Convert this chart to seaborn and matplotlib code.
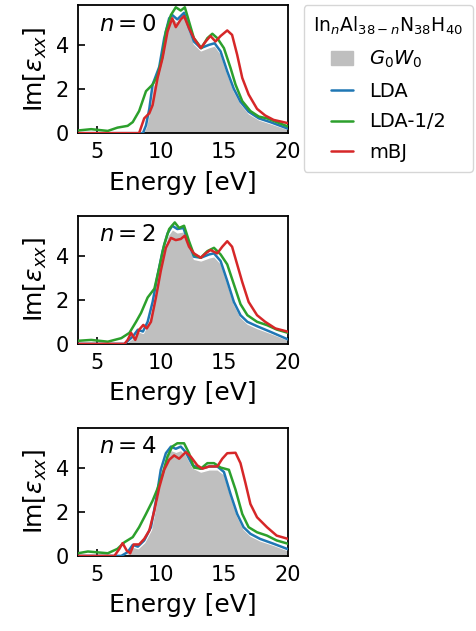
import numpy as np
import pandas as pd
import matplotlib
matplotlib.use("Agg")
import matplotlib.pyplot as plt
import matplotlib.patches as mpatches
from matplotlib.lines import Line2D
import seaborn as sns

# ── Data ────────────────────────────────────────────────────
# n = 0
E0_lda = [3.5, 8.6, 8.84, 9.1, 9.36, 9.88, 10.27, 10.66, 10.9, 11.3, 11.83, 12.22, 12.6, 13.14, 13.8, 14.23, 14.7, 15.22, 15.74, 16.26, 16.9, 17.7, 18.6, 20.0]
I0_lda = [0.0, 0.0, 0.35, 1.1, 2.2, 3.0, 4.3, 5.2, 5.35, 5.15, 5.45, 4.75, 4.15, 3.85, 4.0, 4.07, 3.7, 2.8, 2.0, 1.42, 0.97, 0.67, 0.5, 0.2]
I0_gw  = [0.0, 0.0, 0.3, 1.0, 2.1, 2.9, 4.2, 5.1, 5.25, 5.05, 5.35, 4.65, 4.05, 3.75, 3.9, 3.97, 3.6, 2.7, 1.9, 1.35, 0.9, 0.62, 0.45, 0.18]
E0_half = [3.5, 4.54, 5.84, 6.6, 7.4, 7.8, 8.3, 8.84, 9.36, 9.75, 10.14, 10.4, 10.8, 11.18, 11.57, 11.89, 12.22, 12.6, 13.19, 13.66, 14.05, 14.44, 14.96, 15.48, 15.87, 16.4, 17.04, 17.7, 18.34, 19.1, 20.0]
I0_half = [0.12, 0.18, 0.1, 0.25, 0.33, 0.5, 1.0, 1.9, 2.2, 2.6, 3.5, 4.6, 5.35, 5.7, 5.55, 5.7, 5.05, 4.3, 3.85, 4.3, 4.5, 4.3, 3.85, 2.95, 2.2, 1.45, 1.0, 0.75, 0.67, 0.5, 0.3]
E0_mbj = [3.5, 8.3, 8.7, 9.1, 9.36, 9.75, 10.14, 10.53, 10.9, 11.18, 11.57, 11.83, 12.22, 12.6, 13.14, 13.53, 13.9, 14.3, 14.7, 15.22, 15.6, 16.0, 16.4, 16.9, 17.56, 18.2, 18.86, 20.0]
I0_mbj = [0.0, 0.0, 0.67, 0.9, 1.27, 2.5, 3.4, 4.6, 5.2, 4.8, 5.15, 5.3, 4.75, 4.3, 3.85, 4.15, 4.4, 4.15, 4.4, 4.65, 4.45, 3.55, 2.5, 1.75, 1.1, 0.8, 0.6, 0.45]

# n = 2
E2_lda = [3.5, 7.15, 7.8, 8.2, 8.6, 8.97, 9.36, 9.75, 10.14, 10.53, 10.9, 11.3, 11.78, 12.22, 12.6, 13.14, 13.8, 14.18, 14.7, 15.22, 15.74, 16.26, 16.8, 17.56, 18.6, 20.0]
I2_lda = [0.0, 0.0, 0.33, 0.64, 0.56, 1.0, 1.9, 3.1, 4.2, 5.0, 5.35, 5.2, 5.25, 4.5, 3.95, 3.9, 4.05, 4.1, 3.75, 2.85, 1.9, 1.3, 1.0, 0.8, 0.55, 0.2]
I2_gw  = [0.0, 0.0, 0.28, 0.58, 0.5, 0.9, 1.8, 3.0, 4.1, 4.9, 5.2, 5.05, 5.1, 4.4, 3.85, 3.78, 3.92, 3.97, 3.65, 2.75, 1.8, 1.22, 0.92, 0.72, 0.5, 0.18]
E2_half = [3.5, 4.54, 5.84, 6.9, 7.54, 8.06, 8.45, 8.97, 9.5, 9.88, 10.27, 10.66, 11.1, 11.44, 11.83, 12.22, 12.6, 13.14, 13.66, 14.18, 14.7, 15.22, 15.74, 16.26, 16.8, 17.56, 18.34, 19.1, 20.0]
I2_half = [0.14, 0.18, 0.1, 0.26, 0.5, 1.0, 1.4, 2.1, 2.5, 3.45, 4.5, 5.2, 5.5, 5.25, 5.35, 4.65, 4.05, 3.9, 4.2, 4.35, 4.05, 3.6, 2.7, 1.8, 1.3, 1.0, 0.85, 0.65, 0.5]
E2_mbj = [3.5, 7.15, 7.4, 7.67, 8.0, 8.3, 8.63, 8.9, 9.23, 9.62, 10.0, 10.4, 10.8, 11.18, 11.57, 11.89, 12.22, 12.6, 13.14, 13.53, 13.9, 14.44, 14.83, 15.22, 15.6, 16.0, 16.4, 16.9, 17.56, 18.2, 19.0, 20.0]
I2_mbj = [0.0, 0.0, 0.18, 0.5, 0.18, 0.64, 0.86, 0.7, 1.0, 2.1, 3.3, 4.35, 4.8, 4.7, 4.75, 4.9, 4.4, 4.1, 3.9, 4.1, 4.25, 4.1, 4.4, 4.65, 4.4, 3.6, 2.8, 1.9, 1.3, 1.0, 0.7, 0.55]

# n = 4
E4_lda = [3.5, 6.9, 7.4, 7.8, 8.2, 8.7, 9.23, 9.62, 10.0, 10.4, 10.8, 11.18, 11.57, 11.96, 12.5, 13.14, 13.8, 14.44, 14.96, 15.48, 16.0, 16.5, 17.04, 17.8, 18.86, 20.0]
I4_lda = [0.0, 0.0, 0.17, 0.5, 0.42, 0.7, 1.3, 2.5, 3.9, 4.65, 4.95, 4.85, 4.95, 4.7, 4.1, 3.95, 4.05, 4.05, 3.8, 2.8, 1.9, 1.3, 1.0, 0.77, 0.55, 0.3]
I4_gw  = [0.0, 0.0, 0.12, 0.42, 0.35, 0.62, 1.2, 2.4, 3.8, 4.55, 4.8, 4.72, 4.8, 4.6, 4.0, 3.82, 3.92, 3.92, 3.7, 2.7, 1.8, 1.22, 0.92, 0.7, 0.5, 0.25]
E4_half = [3.5, 4.28, 5.84, 6.6, 7.15, 7.8, 8.3, 8.84, 9.36, 9.75, 10.14, 10.53, 10.9, 11.3, 11.83, 12.22, 12.6, 13.14, 13.66, 14.18, 14.7, 15.35, 15.87, 16.4, 16.9, 17.56, 18.34, 19.1, 20.0]
I4_half = [0.12, 0.2, 0.12, 0.32, 0.62, 0.85, 1.3, 1.9, 2.5, 3.05, 3.7, 4.5, 4.95, 5.1, 5.1, 4.65, 4.0, 3.95, 4.2, 4.2, 4.0, 3.9, 3.0, 1.9, 1.3, 1.07, 0.92, 0.7, 0.55]
E4_mbj = [3.5, 6.36, 6.75, 7.0, 7.33, 7.6, 7.88, 8.3, 8.7, 9.1, 9.5, 9.88, 10.27, 10.66, 11.05, 11.44, 11.96, 12.35, 12.87, 13.27, 13.8, 14.44, 14.83, 15.22, 15.87, 16.26, 16.65, 17.04, 17.56, 18.34, 19.1, 20.0]
I4_mbj = [0.0, 0.0, 0.32, 0.58, 0.24, 0.12, 0.52, 0.52, 0.77, 1.15, 2.06, 3.1, 3.9, 4.35, 4.55, 4.4, 4.7, 4.5, 4.1, 3.95, 4.05, 4.05, 4.4, 4.65, 4.67, 4.2, 3.3, 2.35, 1.75, 1.3, 0.92, 0.77]

panels = [
    ("$n=0$", (E0_lda, I0_gw), (E0_lda, I0_lda), (E0_half, I0_half), (E0_mbj, I0_mbj)),
    ("$n=2$", (E2_lda, I2_gw), (E2_lda, I2_lda), (E2_half, I2_half), (E2_mbj, I2_mbj)),
    ("$n=4$", (E4_lda, I4_gw), (E4_lda, I4_lda), (E4_half, I4_half), (E4_mbj, I4_mbj)),
]

# ── Style ───────────────────────────────────────────────────
sns.set_style("ticks")
plt.rcParams.update({
    "font.family": "DejaVu Sans",
    "mathtext.fontset": "dejavusans",
    "text.color": "black",
    "axes.labelcolor": "black",
    "xtick.color": "black",
    "ytick.color": "black",
    "axes.linewidth": 1.3,
    "axes.edgecolor": "black",
    "xtick.direction": "in",
    "ytick.direction": "in",
    "xtick.major.size": 5,
    "ytick.major.size": 5,
})

GREY  = "#bfbfbf"
BLUE  = "tab:blue"
GREEN = "tab:green"
RED   = "tab:red"

fig = plt.figure(figsize=(4.77, 6.31), dpi=100)

# axes boxes in figure fraction (left, bottom, width, height)
boxes = [
    (0.1635, 0.789, 0.4405, 0.203),
    (0.1635, 0.455, 0.4405, 0.203),
    (0.1635, 0.119, 0.4405, 0.203),
]

for box, (tag, gw, lda, half, mbj) in zip(boxes, panels):
    ax = fig.add_axes(box)
    ax.fill_between(gw[0], gw[1], 0, color=GREY, edgecolor="white",
                    linewidth=1.0, zorder=1)
    for (xs, ys), c in [(lda, BLUE), (half, GREEN), (mbj, RED)]:
        sns.lineplot(x=xs, y=ys, color=c, linewidth=1.8, ax=ax,
                     sort=False, zorder=3)
    ax.set_xlim(3.5, 20)
    ax.set_ylim(0, 5.8)
    ax.set_xticks([5, 10, 15, 20])
    ax.set_yticks([0, 2, 4])
    ax.tick_params(labelsize=15, width=1.2, pad=6.5)
    ax.set_xlabel("Energy [eV]", fontsize=18, labelpad=6)
    ax.set_ylabel(r"Im[$\varepsilon_{xx}$]", fontsize=18, labelpad=5)
    ax.text(0.1, 0.8, tag, transform=ax.transAxes, fontsize=16.5)
    for sp in ax.spines.values():
        sp.set_visible(True)

# ── Legend ──────────────────────────────────────────────────
handles = [
    mpatches.Patch(color=GREY, label="$G_0W_0$"),
    Line2D([], [], color=BLUE, lw=1.8, label="LDA"),
    Line2D([], [], color=GREEN, lw=1.8, label="LDA-1/2"),
    Line2D([], [], color=RED, lw=1.8, label="mBJ"),
]
leg = fig.legend(handles=handles, loc="upper right",
                 bbox_to_anchor=(473 / 477, 1 - 5 / 631),
                 borderaxespad=0.0,
                 title=r"In$_n$Al$_{38-n}$N$_{38}$H$_{40}$",
                 fontsize=14, title_fontsize=13.5, frameon=True,
                 handlelength=1.15, handletextpad=0.8,
                 borderpad=0.5, labelspacing=0.6)
leg.get_frame().set_edgecolor("#cccccc")

fig.savefig("out.png", dpi=100)
plt.close()
